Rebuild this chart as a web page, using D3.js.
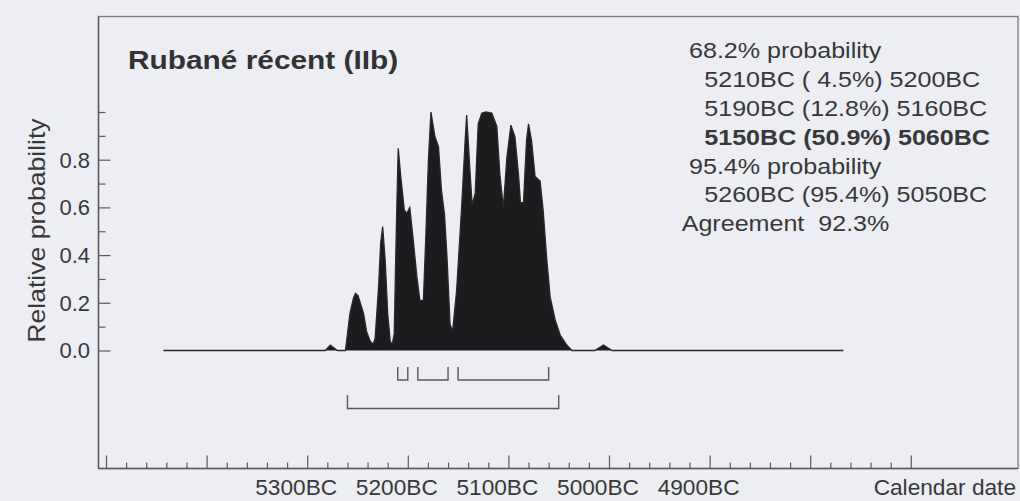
<!DOCTYPE html>
<html>
<head>
<meta charset="utf-8">
<script src="https://cdn.jsdelivr.net/npm/d3@7"></script>
<style>
  html, body { margin: 0; padding: 0; background: #edeef3; }
  svg { display: block; }
  text { font-family: "Liberation Sans", Arial, Helvetica, sans-serif; white-space: pre; }
</style>
</head>
<body>
<svg id="chart" width="1020" height="501"></svg>
<script>
// ---- Data ----
const title = "Rubané récent (IIb)";
const years = [5443, 5282, 5277, 5270, 5262, 5257.5, 5254, 5252, 5249.5, 5244, 5241, 5237.5, 5234.5, 5232.5,
  5229, 5227, 5225, 5222.5, 5220, 5217.5, 5215.5, 5213.5, 5211.5, 5210, 5209.5, 5207, 5203.5, 5201, 5198,
  5194.5, 5191, 5188, 5184.5, 5182, 5179.5, 5177, 5173, 5169.5, 5166.5, 5163.5, 5161, 5158, 5155.5, 5151.5,
  5146.5, 5143, 5141.5, 5138, 5136, 5133, 5130, 5126.5, 5122.5, 5116.5, 5111.5, 5108.5, 5105, 5101.5, 5097.5,
  5093.5, 5090, 5088, 5085, 5082, 5080, 5077, 5073.5, 5068.5, 5065.5, 5062, 5058.5, 5053.5, 5048.5, 5042,
  5037, 5014, 5005.5, 4997, 4767];
const prob = [0, 0, 0.023, 0, 0, 0.156, 0.22, 0.24, 0.23, 0.156, 0.08, 0.04, 0.025, 0.05,
  0.27, 0.45, 0.52, 0.38, 0.156, 0.04, 0.025, 0.07, 0.49, 0.77, 0.848, 0.73, 0.59, 0.575, 0.60,
  0.46, 0.31, 0.21, 0.21, 0.49, 0.80, 1.0, 0.896, 0.855, 0.67, 0.57, 0.39, 0.11, 0.08, 0.25,
  0.60, 0.88, 0.987, 0.74, 0.61, 0.66, 0.95, 0.995, 1.0, 0.995, 0.94, 0.74, 0.60, 0.81, 0.945,
  0.896, 0.74, 0.62, 0.62, 0.88, 0.95, 0.88, 0.73, 0.71, 0.59, 0.39, 0.225, 0.128, 0.065, 0.023,
  0, 0, 0.023, 0, 0];
const ranges68 = [[5210, 5200], [5190, 5160], [5150, 5060]];
const ranges95 = [[5260, 5050]];
const xMajorTicks = [5500, 5400, 5300, 5200, 5100, 5000, 4900, 4800, 4700];
const xTickLabels = [5300, 5200, 5100, 5000, 4900];
const yMajorTicks = [0, 0.2, 0.4, 0.6, 0.8];
const yMinorTicks = [0.1, 0.3, 0.5, 0.7, 0.9, 1.0];
const infoLines = [
  {text: "68.2% probability", indent: 1, bold: false},
  {text: "5210BC ( 4.5%) 5200BC", indent: 2, bold: false},
  {text: "5190BC (12.8%) 5160BC", indent: 2, bold: false},
  {text: "5150BC (50.9%) 5060BC", indent: 2, bold: true},
  {text: "95.4% probability", indent: 1, bold: false},
  {text: "5260BC (95.4%) 5050BC", indent: 2, bold: false},
  {text: "Agreement  92.3%", indent: 0, bold: false}
];

// ---- Layout ----
const svg = d3.select("#chart");
const frame = {left: 98.5, top: 16.5, right: 1018, bottom: 468.5};
const x = d3.scaleLinear().domain([5500, 4700]).range([106, 910.8]);
const y = d3.scaleLinear().domain([0, 1]).range([350.5, 112]);

const textCol = "#38383b";
const axisCol = "#5a5a5e";
// the reference's lettering is slightly wide; stretch glyphs horizontally
const at = (px, py, s) => `translate(${px},${py}) scale(${s},1)`;

// frame
svg.append("rect")
  .attr("x", frame.left).attr("y", frame.top)
  .attr("width", frame.right - frame.left).attr("height", frame.bottom - frame.top)
  .attr("fill", "#edeef3").attr("stroke", "#7a7a80").attr("stroke-width", 1.3);

// x axis ticks (major + minor, pointing inward)
const xMinor = d3.range(5500, 4699, -20).filter(v => v % 100 !== 0);
const xAxisMajor = d3.axisTop(x).tickValues(xMajorTicks).tickSize(13).tickFormat("");
const xAxisMinor = d3.axisTop(x).tickValues(xMinor).tickSize(6).tickFormat("");
[xAxisMajor, xAxisMinor].forEach(ax => {
  const g = svg.append("g").attr("transform", `translate(0,${frame.bottom})`).call(ax);
  g.select(".domain").remove();
  g.selectAll("line").attr("stroke", axisCol).attr("stroke-width", 1.2);
});
svg.append("line").attr("x1", frame.left).attr("x2", frame.right)
  .attr("y1", frame.bottom).attr("y2", frame.bottom)
  .attr("stroke", axisCol).attr("stroke-width", 1.4);

// x tick labels
svg.append("g").selectAll("text").data(xTickLabels).join("text")
  .attr("transform", d => at(x(d) - 11, 495, 1.055))
  .attr("text-anchor", "middle").attr("font-size", 21.5)
  .attr("fill", textCol)
  .text(d => d + "BC");
svg.append("text").attr("transform", at(1016, 495, 1.055)).attr("text-anchor", "end")
  .attr("font-size", 21.5).attr("fill", textCol).text("Calendar date");

// y axis ticks (pointing inward)
const yAxisMajor = d3.axisRight(y).tickValues(yMajorTicks).tickSize(12).tickFormat("");
const yAxisMinor = d3.axisRight(y).tickValues(yMinorTicks).tickSize(7).tickFormat("");
[yAxisMajor, yAxisMinor].forEach(ax => {
  const g = svg.append("g").attr("transform", `translate(${frame.left},0)`).call(ax);
  g.select(".domain").remove();
  g.selectAll("line").attr("stroke", axisCol).attr("stroke-width", 1.2);
});
svg.append("line").attr("x1", frame.left).attr("x2", frame.left)
  .attr("y1", frame.top).attr("y2", frame.bottom)
  .attr("stroke", axisCol).attr("stroke-width", 1.4);
svg.append("g").selectAll("text").data(yMajorTicks).join("text")
  .attr("x", 90).attr("y", d => y(d)).attr("dy", "0.36em")
  .attr("text-anchor", "end").attr("font-size", 22).attr("fill", textCol)
  .text(d => d.toFixed(1));
svg.append("text").attr("transform", "translate(45,230.5) rotate(-90) scale(1.14,1)")
  .attr("text-anchor", "middle").attr("font-size", 23.3)
  .attr("fill", textCol)
  .text("Relative probability");

// distribution
const pts = years.map((yr, i) => ({yr, p: prob[i]}));
svg.append("path").datum(pts)
  .attr("d", d3.area().x(d => x(d.yr)).y0(y(0)).y1(d => y(d.p)))
  .attr("fill", "#1c1c1e");
svg.append("path").datum(pts)
  .attr("d", d3.line().x(d => x(d.yr)).y(d => y(d.p)))
  .attr("fill", "none").attr("stroke", "#2a2a2c").attr("stroke-width", 1.3);

// range brackets
function bracket(r, yTop, yBot) {
  return `M${x(r[0])},${yTop}V${yBot}H${x(r[1])}V${yTop}`;
}
svg.append("g").selectAll("path").data(ranges68).join("path")
  .attr("d", r => bracket(r, 367, 380))
  .attr("fill", "none").attr("stroke", "#5a5a5e").attr("stroke-width", 1.4);
svg.append("g").selectAll("path").data(ranges95).join("path")
  .attr("d", r => bracket(r, 395, 408.5))
  .attr("fill", "none").attr("stroke", "#5a5a5e").attr("stroke-width", 1.4);

// title
svg.append("text").attr("transform", at(128, 69, 1.17))
  .attr("font-size", 25.5).attr("font-weight", "bold")
  .attr("fill", "#333335")
  .text(title);

// info block
const indentX = [681.7, 689, 704.3];
svg.append("g").selectAll("text").data(infoLines).join("text")
  .attr("transform", (d, i) => at(indentX[d.indent], 58.3 + i * 28.8, 1.14))
  .attr("font-size", 22)
  .attr("font-weight", d => d.bold ? "bold" : "normal")
  .attr("fill", textCol)
  .text(d => d.text);
</script>
</body>
</html>
